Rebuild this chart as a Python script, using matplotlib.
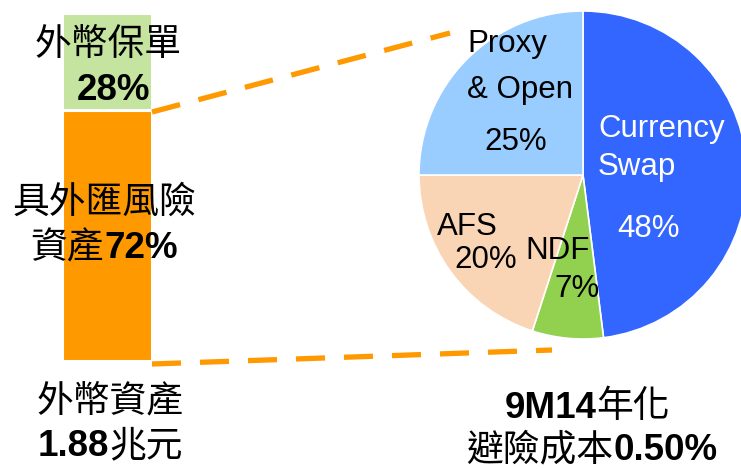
import matplotlib
matplotlib.use("Agg")
import matplotlib.pyplot as plt
from matplotlib.offsetbox import TextArea, HPacker, AnnotationBbox

plt.rcParams["font.family"] = ["Liberation Sans", "Noto Sans CJK TC", "DejaVu Sans"]

# ---- Data ----
bar_names   = ["具外匯風險資產", "外幣保單"]
bar_shares  = [72, 28]
bar_colors  = ["#FF9900", "#C4E49F"]

pie_names   = ["Currency Swap", "NDF", "AFS", "Proxy & Open"]
pie_shares  = [48, 7, 20, 25]
pie_colors  = ["#3366FF", "#92D050", "#FAD5B5", "#99CCFF"]

W, H = 741, 469
fig = plt.figure(figsize=(W / 100, H / 100), dpi=100)

def box(x0, y0, x1, y1):
    # pixel box (top-left origin) -> figure fraction rect
    return [x0 / W, 1 - y1 / H, (x1 - x0) / W, (y1 - y0) / H]

# overlay in pixel coordinates for connectors and labels
ov = fig.add_axes([0, 0, 1, 1], zorder=0)
ov.set_xlim(0, W)
ov.set_ylim(H, 0)
ov.axis("off")

# ---- stacked bar ----
axb = fig.add_axes(box(62, 13, 152, 361), zorder=1)
bottom = 0
for share, col in zip(bar_shares, bar_colors):
    axb.bar(0, share, bottom=bottom, width=1.0, color=col,
            edgecolor="white", linewidth=2.2)
    bottom += share
axb.set_xlim(-0.5, 0.5)
axb.set_ylim(0, sum(bar_shares))
axb.axis("off")

# ---- pie ----
cx, cy, r = 583, 175, 164
axp = fig.add_axes(box(cx - r, cy - r, cx + r, cy + r), zorder=1)
axp.pie(pie_shares, colors=pie_colors, startangle=90, counterclock=False,
        wedgeprops=dict(edgecolor="white", linewidth=1.2))
axp.set_xlim(-1, 1)
axp.set_ylim(-1, 1)
axp.set_aspect("equal")

# dashed connectors from the bar to the pie
dash = dict(color="#FF9900", lw=3.8, ls=(0, (5.5, 3.6)), solid_capstyle="butt",
            dash_capstyle="butt")
ov.plot([152, 450], [112, 33], **dash)
ov.plot([152, 552], [364, 350], **dash)

# ---- labels ----
def mixed(x, y, parts, size=26.5, color="black"):
    areas = [TextArea(s, textprops=dict(fontsize=size, color=color,
                                        fontweight="bold" if b else "medium"))
             for s, b in parts]
    pack = HPacker(children=areas, align="baseline", pad=0, sep=0)
    ab = AnnotationBbox(pack, (x, y), xycoords="data", frameon=False,
                        box_alignment=(0.5, 0.5), pad=0)
    ov.add_artist(ab)
    ab.set_zorder(3)

mixed(108, 46, [("外幣保單", False)])
mixed(114, 91, [("28%", True)])
mixed(104, 203, [("具外匯風險", False)])
mixed(104, 249, [("資產", False), ("72%", True)])
mixed(110, 402, [("外幣資產", False)])
mixed(110, 447, [("1.88", True), ("兆元", False)])
mixed(587, 408, [("9M14", True), ("年化", False)])
mixed(592, 451, [("避險成本", False), ("0.50%", True)])

fs = 22.5
lab = dict(fontsize=fs, va="baseline", zorder=4)
ov.text(467, 52, "Proxy", ha="left", **lab)
ov.text(467, 98, "& Open", ha="left", **lab)
ov.text(516, 150, "25%", ha="center", **lab)
ov.text(598, 137, "Currency", ha="left", color="white", **lab)
ov.text(598, 175, "Swap", ha="left", color="white", **lab)
ov.text(649, 237, "48%", ha="center", color="white", **lab)
ov.text(467, 235, "AFS", ha="center", **lab)
ov.text(486, 268, "20%", ha="center", **lab)
ov.text(558, 259, "NDF", ha="center", **lab)
ov.text(577, 297, "7%", ha="center", **lab)

ov.set_zorder(2)
ov.patch.set_visible(False)

fig.savefig("out.png", dpi=100)
